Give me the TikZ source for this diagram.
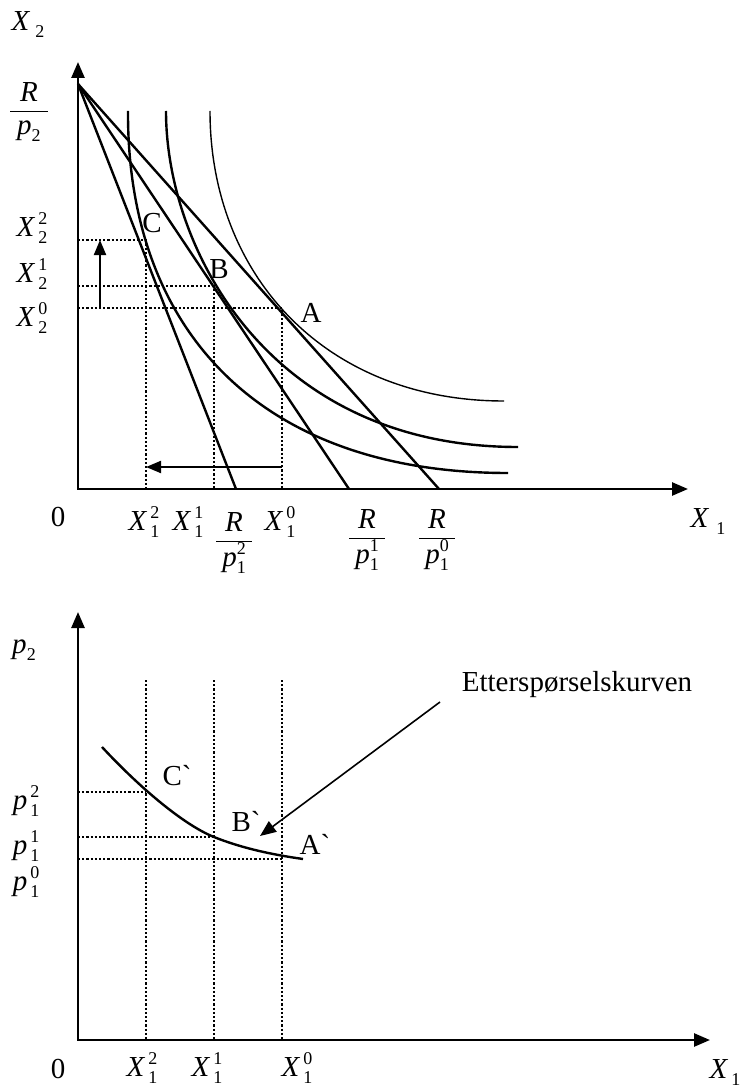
\documentclass[tikz,border=0pt]{standalone}
\usepackage{fontspec}
\setmainfont{Liberation Serif}[Ligatures=TeXOff]
\usetikzlibrary{arrows.meta}
\newcommand{\smsz}[1]{{\fontsize{18}{18}\selectfont #1}}
% variable with subscript #2 and superscript #3
\newcommand{\Vss}[3]{\textit{#1}\kern3pt\rlap{\raisebox{12pt}{\smsz{#3}}}\raisebox{-7pt}{\smsz{#2}}}
% variable with subscript only, optional gap
\newcommand{\Vs}[3]{\textit{#1}\kern#3\raisebox{-7pt}{\smsz{#2}}}
\newcommand{\Fr}[2]{$\displaystyle\frac{\mbox{\textit{R}}}{\mbox{\kern#2 #1\kern#2}}$}
\begin{document}
\begin{tikzpicture}[x=1pt,y=-1pt,
  font=\fontsize{29}{34}\selectfont,
  axes/.style={line width=2.6pt,{Triangle[length=16pt,width=13pt]}-{Triangle[length=16pt,width=13pt]}},
  budget/.style={line width=2.4pt},
  icurve/.style={line width=2.4pt},
  thincurve/.style={line width=1.4pt},
  guide/.style={line width=2.6pt,dash pattern=on 2.2pt off 2pt},
  move/.style={line width=2pt,-{Triangle[length=15pt,width=12pt]}},
  pointer/.style={line width=1.6pt,-{Triangle[length=16pt,width=13pt]}},
  lbl/.style={inner sep=0pt}]
\useasboundingbox (0,0) rectangle (743,1091);

%================ TOP DIAGRAM ================
\coordinate (O1) at (78,489);
\coordinate (Y1) at (78,62);
\coordinate (X1e) at (688,489);
\draw[axes] (Y1) -- (O1) -- (X1e);

\coordinate (Rp2) at (78,84);
\coordinate (I2) at (236,489);
\coordinate (I1) at (349,489);
\coordinate (I0) at (439,489);
\draw[budget] (Rp2) -- (I2);
\draw[budget] (Rp2) -- (I1);
\draw[budget] (Rp2) -- (I0);

% indifference curves
\coordinate (u2s) at (128,111);
\coordinate (u2e) at (508,473);
\coordinate (u1s) at (166,111);
\coordinate (u1e) at (518,447);
\coordinate (u0s) at (210,111);
\coordinate (u0e) at (504,401);
\draw[icurve] (u2s) .. controls (127,330) and (260,473) .. (u2e);
\draw[icurve] (u1s) .. controls (166,250) and (270,447) .. (u1e);
\draw[thincurve] (u0s) .. controls (210,275) and (325,401) .. (u0e);

% optimum points
\coordinate (C) at (146,240);
\coordinate (B) at (214,286);
\coordinate (A) at (282,308);
\coordinate (Cy) at (78,240);
\coordinate (By) at (78,286);
\coordinate (Ay) at (78,308);
\coordinate (Cx) at (146,489);
\coordinate (Bx) at (214,489);
\coordinate (Ax) at (282,489);
\draw[guide] (Cy) -- (C) -- (Cx);
\draw[guide] (By) -- (B) -- (Bx);
\draw[guide] (Ay) -- (A) -- (Ax);

% shift arrows
\coordinate (va0) at (100,308);
\coordinate (va1) at (100,240);
\draw[move] (va0) -- (va1);
\coordinate (ha0) at (282,467);
\coordinate (ha1) at (146,467);
\draw[move] (ha0) -- (ha1);

% point labels
\node[lbl] (lC) at (152,223) {C};
\node[lbl] (lB) at (219,269) {B};
\node[lbl] (lA) at (311,313) {A};

% axis labels
\node[lbl] (tX2) at (28,25) {\Vs{X}{2}{5pt}};
\node[lbl] (tR2) at (29,112) {\Fr{\textit{p}\raisebox{-7pt}{\smsz{2}}}{7pt}};
\node[lbl] (tX22) at (32,228) {\Vss{X}{2}{2}};
\node[lbl] (tX21) at (32,274) {\Vss{X}{2}{1}};
\node[lbl] (tX20) at (32,318) {\Vss{X}{2}{0}};
\node[lbl] (t0) at (58,517) {0};
\node[lbl] (tX12) at (144,522) {\Vss{X}{1}{2}};
\node[lbl] (tX11) at (188,522) {\Vss{X}{1}{1}};
\node[lbl] (tRp12) at (234,543) {\Fr{\textit{p}\rlap{\raisebox{12pt}{\smsz{2}}}\raisebox{-7pt}{\smsz{1}}}{6pt}};
\node[lbl] (tX10) at (280,522) {\Vss{X}{1}{0}};
\node[lbl] (tRp11) at (367,540) {\Fr{\textit{p}\rlap{\raisebox{12pt}{\smsz{1}}}\raisebox{-7pt}{\smsz{1}}}{6pt}};
\node[lbl] (tRp10) at (437,540) {\Fr{\textit{p}\rlap{\raisebox{12pt}{\smsz{0}}}\raisebox{-7pt}{\smsz{1}}}{6pt}};
\node[lbl] (tX1) at (708,522) {\Vs{X}{1}{7pt}};

%================ BOTTOM DIAGRAM ================
\coordinate (O2) at (78,1040);
\coordinate (Y2) at (78,612);
\coordinate (X2e) at (710,1040);
\draw[axes] (Y2) -- (O2) -- (X2e);

\coordinate (dC) at (146,792);
\coordinate (dB) at (214,837);
\coordinate (dA) at (282,859);
\coordinate (dCy) at (78,792);
\coordinate (dBy) at (78,837);
\coordinate (dAy) at (78,859);
\coordinate (dCt) at (146,680);
\coordinate (dBt) at (214,680);
\coordinate (dAt) at (282,680);
\coordinate (dCx) at (146,1040);
\coordinate (dBx) at (214,1040);
\coordinate (dAx) at (282,1040);
\draw[guide] (dCt) -- (dCx);
\draw[guide] (dBt) -- (dBx);
\draw[guide] (dAt) -- (dAx);
\draw[guide] (dCy) -- (dC);
\draw[guide] (dBy) -- (dB);
\draw[guide] (dAy) -- (dA);

% demand curve
\coordinate (ds) at (102,747);
\coordinate (de) at (303,859);
\draw[icurve] (ds) .. controls (140,788) and (184,825) .. (dB) .. controls (244,849) and (275,855) .. (de);

\node[lbl] (lCp) at (177,776) {C`};
\node[lbl] (lBp) at (246,821) {B`};
\node[lbl] (lAp) at (315,844) {A`};

\node[lbl] (ett) at (577,685) {Etterspørselskurven};
\coordinate (ettS) at (440,702);
\coordinate (ettT) at (260,836);
\draw[pointer] (ettS) -- (ettT);

% axis labels
\node[lbl] (bp2) at (24,650) {\Vs{p}{2}{0pt}};
\node[lbl] (bp12) at (26,801) {\Vss{p}{1}{2}};
\node[lbl] (bp11) at (26,846) {\Vss{p}{1}{1}};
\node[lbl] (bp10) at (26,882) {\Vss{p}{1}{0}};
\node[lbl] (b0) at (58,1069) {0};
\node[lbl] (bX12) at (142,1068) {\Vss{X}{1}{2}};
\node[lbl] (bX11) at (207,1068) {\Vss{X}{1}{1}};
\node[lbl] (bX10) at (297,1068) {\Vss{X}{1}{0}};
\node[lbl] (bX1) at (725,1072) {\Vs{X}{1}{3pt}};
\end{tikzpicture}
\end{document}
